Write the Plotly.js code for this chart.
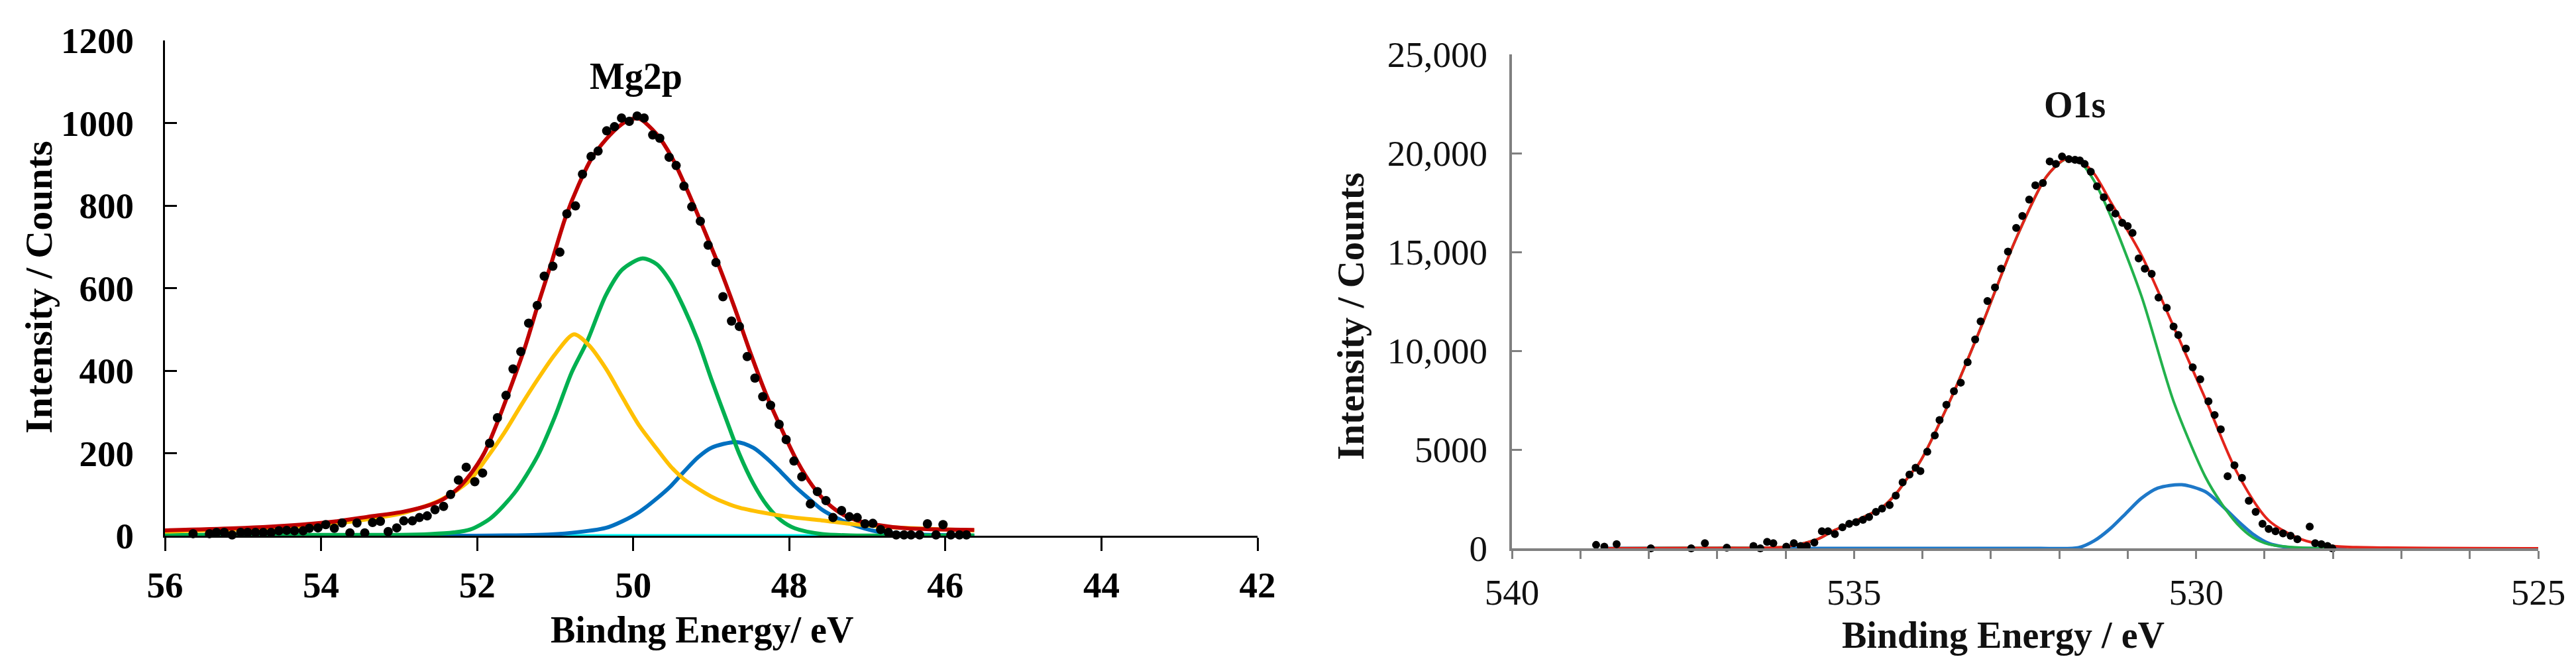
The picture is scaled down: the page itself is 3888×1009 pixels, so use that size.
<!DOCTYPE html>
<html>
<head>
<meta charset="utf-8">
<script src="https://cdn.plot.ly/plotly-3.0.1.min.js"></script>
<style>html,body{margin:0;padding:0;background:#fff;}#chart{width:3888px;height:1009px;}</style>
</head>
<body>
<div id="chart"></div>
<script>
// ---------- Mg2p (left panel) ----------
const mgDotsX = [55.64,55.43,55.34,55.24,55.14,55.03,54.94,54.84,54.74,54.64,
  54.54,54.44,54.34,54.23,54.15,54.04,53.94,53.83,53.73,53.63,
  53.54,53.44,53.34,53.24,53.14,53.03,52.94,52.83,52.74,52.64,
  52.54,52.43,52.34,52.24,52.14,52.03,51.93,51.84,51.74,51.63,
  51.54,51.44,51.34,51.23,51.14,51.03,50.94,50.85,50.74,50.65,
  50.54,50.45,50.34,50.24,50.15,50.05,49.95,49.86,49.75,49.66,
  49.54,49.45,49.35,49.25,49.14,49.04,48.94,48.85,48.74,48.64,
  48.54,48.44,48.34,48.24,48.13,48.04,47.94,47.84,47.73,47.64,
  47.53,47.44,47.33,47.23,47.13,47.03,46.93,46.83,46.73,46.63,
  46.53,46.44,46.33,46.23,46.12,46.03,45.93,45.82,45.73];
const mgDotsY = [5,5,8,8,2,8,8,8,8,8,
  12,13,12,12,18,19,27,18,31,7,
  31,7,32,35,10,19,36,36,44,48,
  63,71,100,135,166,131,152,224,286,340,
  404,446,515,558,629,653,687,780,799,876,
  919,932,981,991,1012,1004,1017,1012,971,963,
  917,897,847,797,762,704,662,579,520,507,
  434,382,337,316,270,233,181,143,77,107,
  85,44,61,46,44,29,30,15,8,2,
  2,2,2,29,2,27,2,2,2];

const mgFitX = [56,55.1,54.25,53.8,53.4,52.95,52.6,52.43,52.26,52.09,
  51.91,51.74,51.57,51.39,51.22,51.05,50.87,50.7,50.53,50.35,
  50.18,50.05,49.92,49.7,49.5,49.3,49.1,48.9,48.7,48.5,
  48.3,48.1,47.9,47.7,47.5,47.3,47.1,46.9,46.5,45.63];
const mgFitY = [13,18,27,35,46,58,75,89,112,148,
  200,275,360,455,560,660,770,850,915,960,
  992,1008,1010,973,915,834,745,653,552,444,
  344,259,181,120,77,50,35,27,18,14];

const mgP1X = [56,54.7,53.8,53.4,52.95,52.52,52.3,52.09,51.87,51.65,51.44,51.22,51.0,50.76,50.57,50.35,50.14,49.92,49.7,49.52,49.35,49.17,49.0,48.81,48.64,48.28,47.93,47.58,47.22,46.87,46.51,45.63];
const mgP1Y = [10,18,30,40,55,82,105,135,190,250,315,380,440,488,462,405,336,266,211,168,137,114,95,79,68,54,44,37,29,23,19,13];

const mgP2X = [56,53.0,52.6,52.3,52.09,51.83,51.52,51.22,51.0,50.79,50.59,50.35,50.14,49.88,49.7,49.52,49.35,49.17,49.0,48.81,48.64,48.46,48.28,48.11,47.93,47.58,47.22,45.63];
const mgP2Y = [2,2,4,8,15,42,104,195,290,395,471,583,645,672,658,615,552,472,380,283,198,126,72,38,18,4,1,1];

const mgP3X = [53.0,52.09,51.22,50.79,50.35,50.14,49.92,49.7,49.52,49.35,49.17,49.0,48.68,48.46,48.28,48.11,47.93,47.75,47.58,47.4,47.22,46.87,46.51,45.63];
const mgP3Y = [0,0,2,7,19,35,58,90,120,155,190,213,227,213,186,155,120,90,63,44,29,10,4,0];

const mgBaseX = [56,45.63];
const mgBaseY = [0,0];

const mgXTicks = [56,54,52,50,48,46,44,42];
const mgYTicks = [0,200,400,600,800,1000,1200];

// ---------- O1s (right panel) ----------
const oDotsX = [538.77,538.65,538.47,537.97,537.38,537.18,536.86,536.47,536.37,536.27,
  536.18,535.99,535.88,535.78,535.69,535.58,535.47,535.38,535.28,535.17,
  535.07,534.97,534.87,534.78,534.68,534.59,534.48,534.39,534.29,534.19,534.10,
  534.03,533.93,533.82,533.75,533.65,533.54,533.44,533.34,533.23,533.15,
  533.05,532.94,532.85,532.75,532.63,532.54,532.44,532.35,532.24,532.14,
  532.05,531.96,531.86,531.77,531.70,531.63,531.54,531.45,531.35,531.26,
  531.18,531.08,531.00,530.93,530.84,530.75,530.65,530.55,530.43,530.33,
  530.26,530.15,530.05,529.94,529.82,529.73,529.64,529.54,529.44,529.33,
  529.23,529.13,529.03,528.94,528.84,528.73,528.62,528.52,528.34,528.26,
  528.17,528.08,528.01];
const oDotsY = [172,86,207,0,0,258,34,120,0,327,
  258,86,258,120,120,293,861,861,723,1067,
  1240,1326,1446,1584,1842,2014,2187,2669,3340,3736,4080,
  3908,4890,5716,6491,7266,7955,8385,9418,10572,11484,
  12517,13206,14153,15014,16219,16822,17648,18371,18492,19577,
  19456,19835,19697,19663,19628,19456,19060,18320,17769,17252,
  16942,16477,16305,15961,14669,14153,13894,12689,12173,11226,
  10795,10107,9160,8557,7438,6749,6026,3650,4201,3564,
  2410,1842,1240,981,861,758,637,465,1102,258,
  207,120,0];

const oFitX = [538.7,537,536,535.53,535.3,535.07,534.84,534.61,534.38,534.19,534.05,533.58,533.12,532.65,532.19,531.91,531.7,531.5,531.26,530.8,530.33,529.87,529.4,528.94,528.47,528.01,527.23,526,525];
const oFitY = [0,20,80,465,895,1240,1618,2014,2789,3700,4300,7610,11398,15530,18802,19700,19600,19000,17596,14842,11226,7610,3822,1412,465,120,34,5,0];

const oP1X = [538.7,537,536,535.53,535.3,535.07,534.84,534.61,534.38,534.19,534.05,533.58,533.12,532.65,532.19,531.91,531.7,531.5,531.26,530.8,530.33,529.87,529.63,529.4,529.17,528.94,528.47,528.0];
const oP1Y = [0,20,80,465,895,1240,1618,2014,2789,3700,4300,7610,11398,15530,18802,19690,19560,18650,16908,12775,7438,3650,2273,1240,551,207,34,0];

const oP2X = [538.7,535,532.3,531.72,531.49,531.26,531.03,530.8,530.56,530.21,529.87,529.63,529.4,529.17,528.94,528.7,528.47,528.2,527.8];
const oP2Y = [0,0,0,34,379,981,1756,2531,3048,3220,2875,2187,1412,723,258,69,0,0,0];

const oXTicks = [540,535,530,525];
const oYTicks = [0,5000,10000,15000,20000,25000];
const oYLabels = ['0','5000','10,000','15,000','20,000','25,000'];

// ---------- figure ----------
const W = 3888, H = 1009;
const px = v => v / W;
const py = v => 1 - v / H;
const serif = 'Liberation Serif, Times New Roman, serif';

const line = (x, y, color, width, xa, ya) => ({
  type: 'scatter', mode: 'lines', x: x, y: y, xaxis: xa, yaxis: ya,
  line: {color: color, width: width, shape: 'spline', smoothing: 0.8},
  hoverinfo: 'skip', showlegend: false
});

const data = [
  line(mgBaseX, mgBaseY, '#00FFFF', 5, 'x', 'y'),
  line(mgP3X, mgP3Y, '#0070C0', 6, 'x', 'y'),
  line(mgP2X, mgP2Y, '#00B050', 6, 'x', 'y'),
  line(mgP1X, mgP1Y, '#FFC000', 6, 'x', 'y'),
  line(mgFitX, mgFitY, '#C00000', 6, 'x', 'y'),
  {type: 'scatter', mode: 'markers', x: mgDotsX, y: mgDotsY, xaxis: 'x', yaxis: 'y',
   marker: {color: '#000', size: 14}, showlegend: false, cliponaxis: false},

  line(oP2X, oP2Y, '#1E78C8', 5, 'x2', 'y2'),
  line(oP1X, oP1Y, '#22B14C', 4, 'x2', 'y2'),
  line(oFitX, oFitY, '#E3241B', 4, 'x2', 'y2'),
  {type: 'scatter', mode: 'markers', x: oDotsX, y: oDotsY, xaxis: 'x2', yaxis: 'y2',
   marker: {color: '#000', size: 12}, showlegend: false, cliponaxis: false}
];

const boldTick = {family: serif, size: 55, color: '#000', weight: 'bold'};
const regTick = {family: serif, size: 55, color: '#111'};

const layout = {
  width: W, height: H,
  margin: {l: 0, r: 0, t: 0, b: 0},
  paper_bgcolor: '#fff', plot_bgcolor: 'rgba(0,0,0,0)',
  showlegend: false,
  xaxis: {
    domain: [px(249), px(1898)], range: [56, 42], anchor: 'y',
    tickmode: 'array', tickvals: mgXTicks, ticktext: mgXTicks.map(String),
    ticks: 'outside', ticklen: 20, tickwidth: 3, tickcolor: '#000',
    showline: true, linecolor: '#000', linewidth: 3,
    showgrid: false, zeroline: false, tickfont: boldTick, ticklabelstandoff: 4
  },
  yaxis: {
    domain: [py(808), py(61)], range: [0, 1200], anchor: 'x',
    tickmode: 'array', tickvals: mgYTicks, ticktext: mgYTicks.map(String),
    ticks: 'inside', ticklen: 18, tickwidth: 3, tickcolor: '#000',
    showline: true, linecolor: '#000', linewidth: 3,
    showgrid: false, zeroline: false, tickfont: boldTick, ticklabelstandoff: 33
  },
  xaxis2: {
    domain: [px(2282), px(3831)], range: [540, 525], anchor: 'y2',
    tickmode: 'array', tickvals: oXTicks, ticktext: oXTicks.map(String),
    ticks: 'outside', ticklen: 12, tickwidth: 3, tickcolor: '#808080',
    minor: {tickmode: 'linear', tick0: 525, dtick: 1, ticks: 'outside', ticklen: 12, tickwidth: 3, tickcolor: '#808080'},
    showline: true, linecolor: '#808080', linewidth: 4,
    showgrid: false, zeroline: false, tickfont: regTick, ticklabelstandoff: 3
  },
  yaxis2: {
    domain: [py(827), py(82)], range: [0, 25000], anchor: 'x2',
    tickmode: 'array', tickvals: oYTicks, ticktext: oYLabels,
    ticks: 'inside', ticklen: 15, tickwidth: 3, tickcolor: '#808080',
    showline: true, linecolor: '#808080', linewidth: 4,
    showgrid: false, zeroline: false, tickfont: regTick, ticklabelstandoff: 22
  },
  annotations: [
    {text: 'Intensity / Counts', x: px(58), y: py(433), xref: 'paper', yref: 'paper',
     textangle: -90, showarrow: false, xanchor: 'center', yanchor: 'middle',
     font: {family: serif, size: 58, color: '#000', weight: 'bold'}},
    {text: 'Bindng Energy/ eV', x: px(1059), y: py(950), xref: 'paper', yref: 'paper',
     showarrow: false, xanchor: 'center', yanchor: 'middle',
     font: {family: serif, size: 56, color: '#000', weight: 'bold'}},
    {text: 'Mg2p', x: px(960), y: py(115), xref: 'paper', yref: 'paper',
     showarrow: false, xanchor: 'center', yanchor: 'middle',
     font: {family: serif, size: 56, color: '#000', weight: 'bold'}},
    {text: 'Intensity / Counts', x: px(2038), y: py(477), xref: 'paper', yref: 'paper',
     textangle: -90, showarrow: false, xanchor: 'center', yanchor: 'middle',
     font: {family: serif, size: 57, color: '#111', weight: 'bold'}},
    {text: 'Binding Energy / eV', x: px(3023), y: py(958), xref: 'paper', yref: 'paper',
     showarrow: false, xanchor: 'center', yanchor: 'middle',
     font: {family: serif, size: 56, color: '#111', weight: 'bold'}},
    {text: 'O1s', x: px(3131), y: py(158), xref: 'paper', yref: 'paper',
     showarrow: false, xanchor: 'center', yanchor: 'middle',
     font: {family: serif, size: 56, color: '#111', weight: 'bold'}}
  ]
};

Plotly.newPlot('chart', data, layout, {staticPlot: true, displayModeBar: false});
</script>
</body>
</html>
